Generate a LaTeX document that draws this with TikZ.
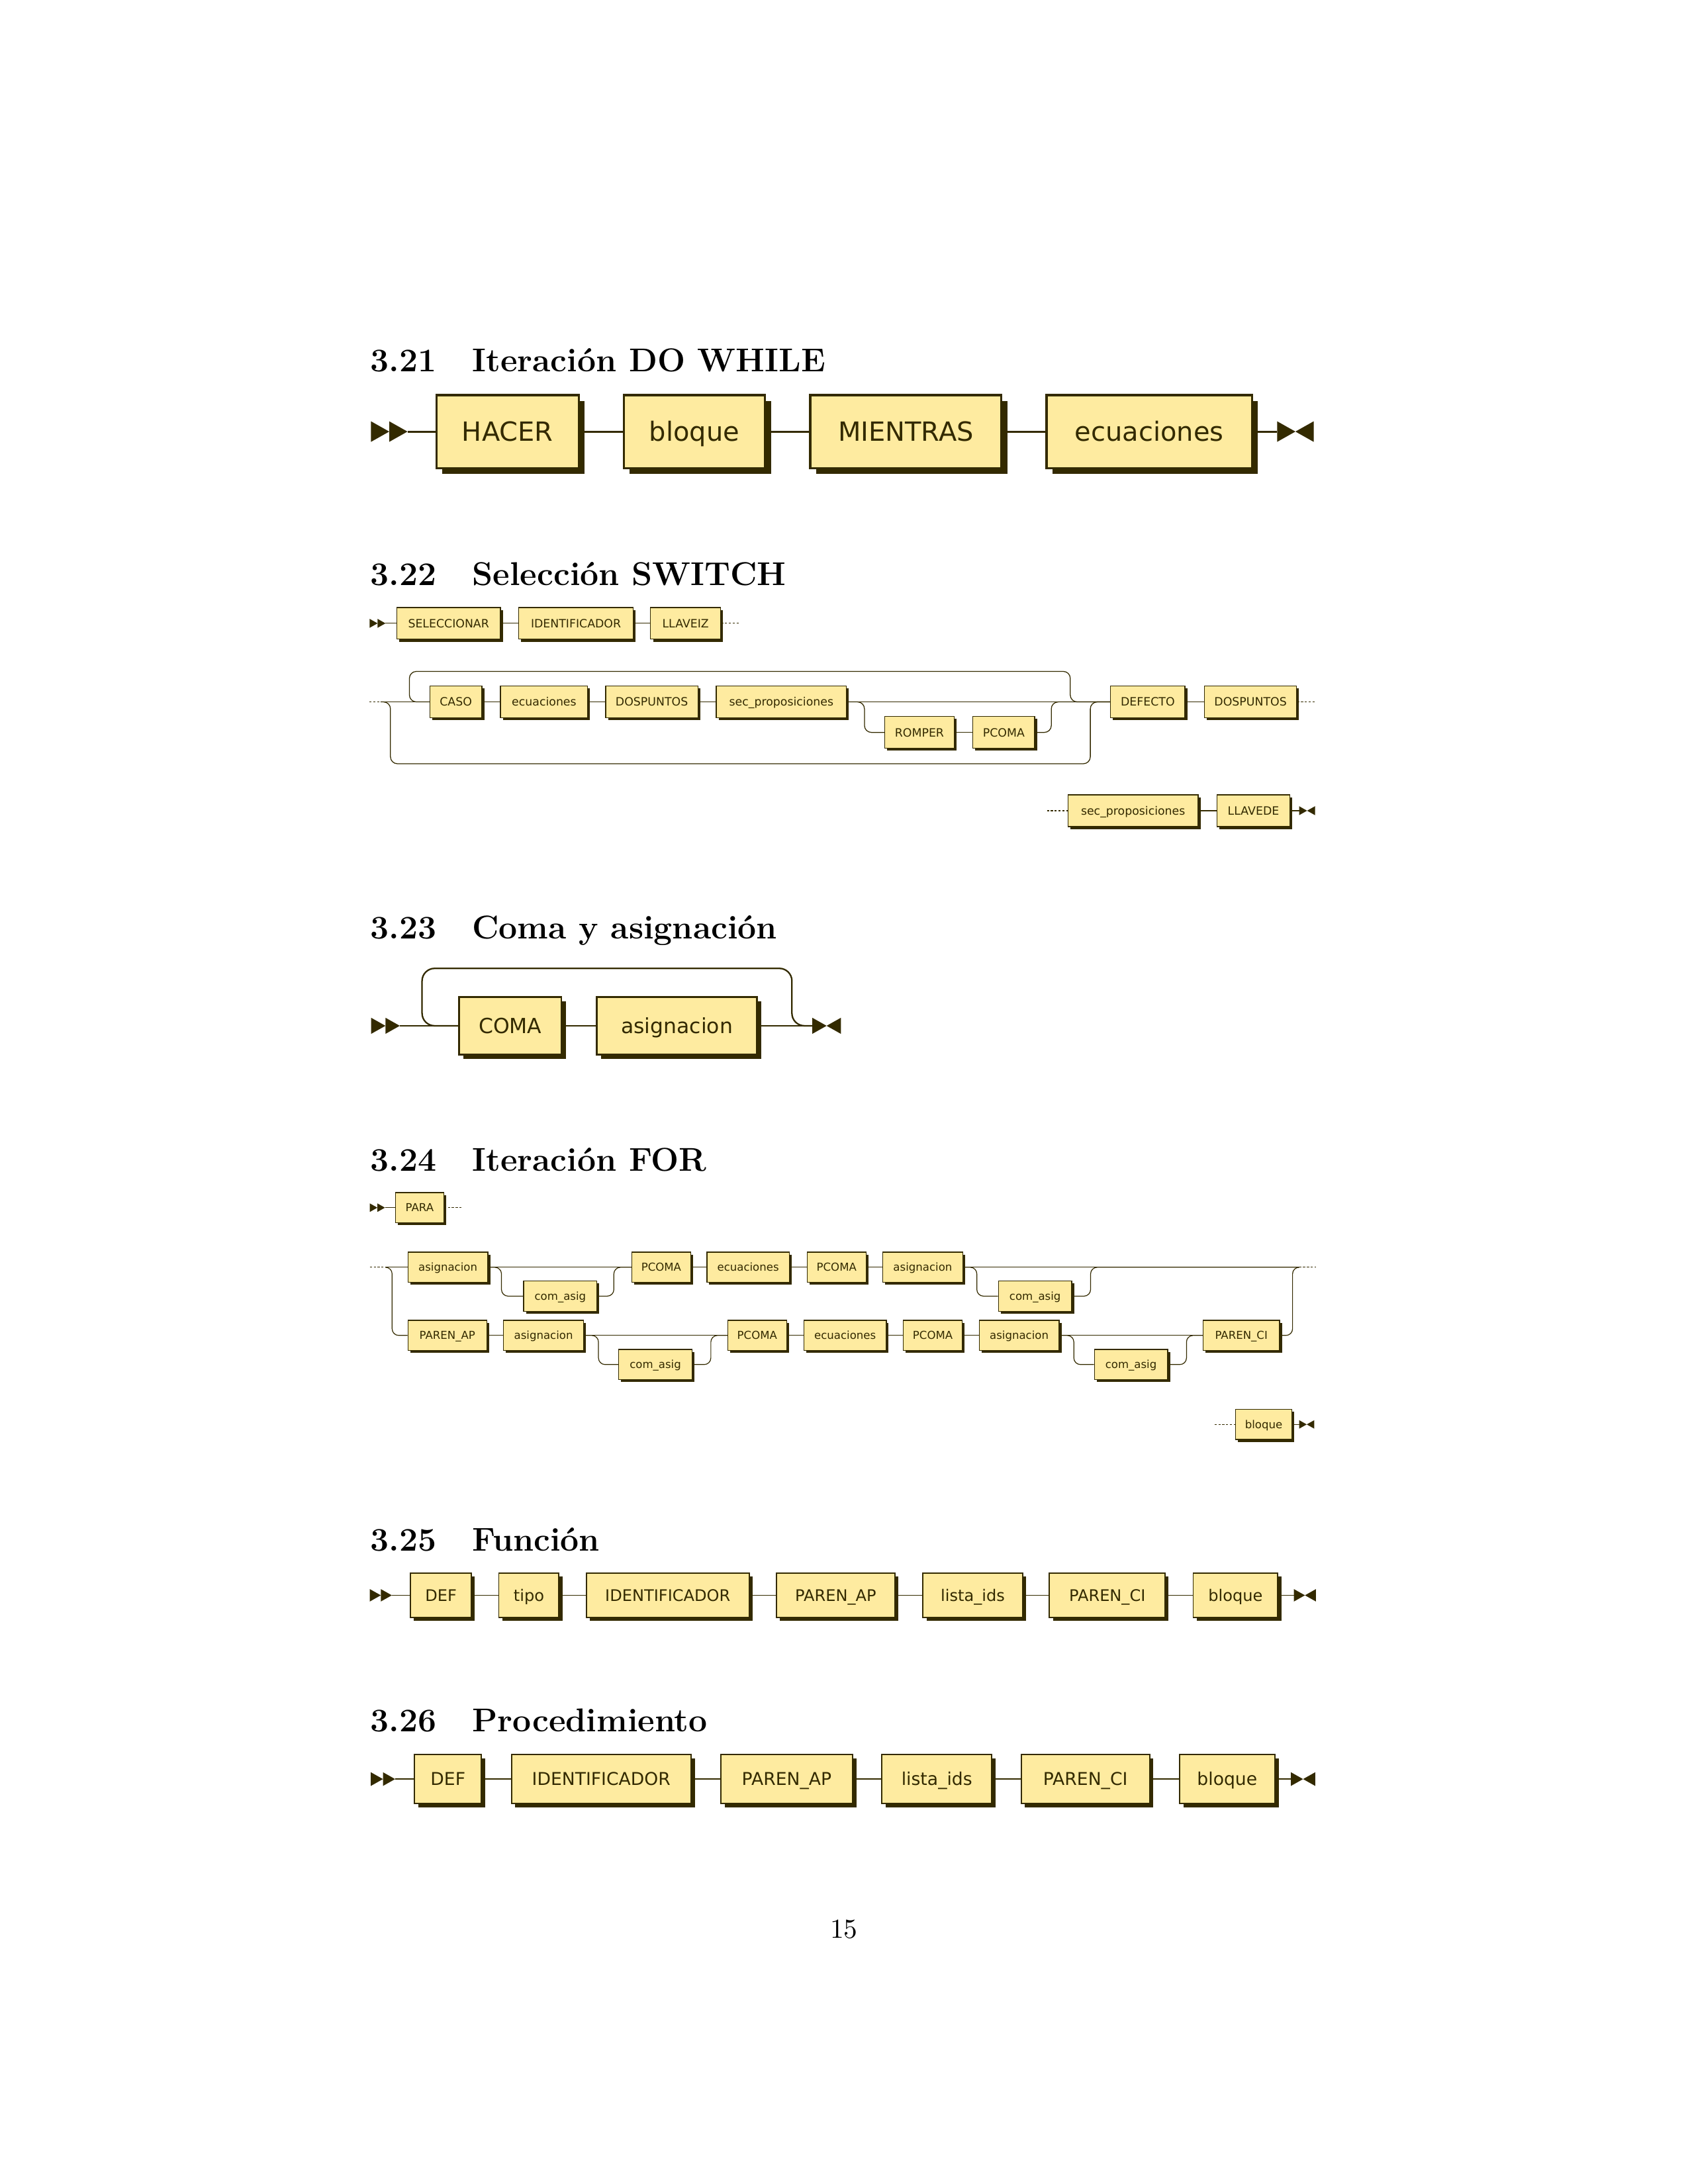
\documentclass[tikz,border=0pt]{standalone}
\usepackage{fontspec}
\usepackage{xcolor}
\usepackage{tikz}
\usetikzlibrary{shadows}

\newfontfamily\tsBoxFont{DejaVu Sans}

\definecolor{rrFill}{HTML}{FEEBA0}
\definecolor{rrDark}{HTML}{332A00}

\tikzstyle{tsHeading} = [
    text=black,
    font=\fontsize{12}{14}\selectfont\bfseries,
    anchor=base west,
    inner sep=0pt
]
\tikzstyle{tsBox} = [
    rectangle,
    draw=rrDark,
    fill=rrFill,
    text=rrDark,
    anchor=west,
    inner sep=0pt,
    minimum height=#1*32pt,
    text height=#1*8.5pt,
    text depth=0pt,
    line width=#1*0.9pt,
    font={\pgfmathsetmacro{\tsSize}{11.6*#1}\tsBoxFont\fontsize{\tsSize}{\tsSize}\selectfont},
    drop shadow={shadow xshift=#1*2.5pt, shadow yshift=-#1*2.5pt, fill=rrDark, opacity=1}
]
\tikzstyle{tsLine} = [
    draw=rrDark,
    line width=#1*0.85pt
]
\tikzstyle{tsLoop} = [
    tsLine=#1,
    rounded corners=#1*7pt
]
\tikzstyle{tsDots} = [
    draw=rrDark,
    line width=0.3pt,
    dash pattern=on 0.8pt off 0.6pt
]

\tikzset{
    tsStart/.pic={
        \fill[rrDark] (0,0) -- (-8,-4.5) -- (-8,4.5) -- cycle;
        \fill[rrDark] (-8,0) -- (-16,-4.5) -- (-16,4.5) -- cycle;
    },
    tsEnd/.pic={
        \fill[rrDark] (8,0) -- (0,-4.5) -- (0,4.5) -- cycle;
        \fill[rrDark] (8,0) -- (16,-4.5) -- (16,4.5) -- cycle;
    }
}

\begin{document}
\begin{tikzpicture}[x=1pt, y=-1pt]

        \useasboundingbox (0,0) rectangle (614.3,795.0);

        % 3.21
        \node[tsHeading] (h321) at (134.65,135.3) {3.21\quad\hspace{1pt}Iteración DO WHILE};

        \coordinate (s321) at (148.3,157.1);
        \coordinate (e321) at (464.8,157.1);
        \pic[scale=0.83] at (s321) {tsStart};
        \pic[scale=0.83] at (e321) {tsEnd};

        \node[tsBox=0.83, minimum width=51.7pt] (hacer) at (158.5,157.1) {HACER};
        \node[tsBox=0.83, minimum width=51.5pt] (bloqueA) at (226.6,157.1) {bloque};
        \node[tsBox=0.83, minimum width=69.6pt] (mientras) at (294.5,157.1) {MIENTRAS};
        \node[tsBox=0.83, minimum width=74.7pt] (ecuA) at (380.5,157.1) {ecuaciones};

        \draw[tsLine=0.83] (s321) -- (hacer);
        \draw[tsLine=0.83] (hacer) -- (bloqueA);
        \draw[tsLine=0.83] (bloqueA) -- (mientras);
        \draw[tsLine=0.83] (mientras) -- (ecuA);
        \draw[tsLine=0.83] (ecuA) -- (e321);

        % 3.22
        \node[tsHeading] (h322) at (134.65,213.2) {3.22\quad\hspace{1pt}Selección SWITCH};

        \coordinate (s322) at (140.3,226.9);
        \coordinate (w322a) at (269.4,226.9);
        \pic[scale=0.36] at (s322) {tsStart};

        \node[tsBox=0.36, minimum width=37.8pt] (selec) at (144.2,226.9) {SELECCIONAR};
        \node[tsBox=0.36, minimum width=41.7pt] (identB) at (188.6,226.9) {IDENTIFICADOR};
        \node[tsBox=0.36, minimum width=25.5pt] (llaveiz) at (236.6,226.9) {LLAVEIZ};

        \draw[tsLine=0.36] (s322) -- (selec);
        \draw[tsLine=0.36] (selec) -- (identB);
        \draw[tsLine=0.36] (identB) -- (llaveiz);
        \draw[tsDots] (llaveiz) -- (w322a);

        \coordinate (w322b) at (134.4,255.5);
        \coordinate (j322a) at (138.5,255.5);
        \coordinate (w322c) at (478.9,255.5);

        \node[tsBox=0.36, minimum width=18.9pt] (caso) at (156.3,255.5) {CASO};
        \node[tsBox=0.36, minimum width=31.7pt] (ecuB) at (182.0,255.5) {ecuaciones};
        \node[tsBox=0.36, minimum width=33.5pt] (dospA) at (220.3,255.5) {DOSPUNTOS};
        \node[tsBox=0.36, minimum width=47.4pt] (secpropA) at (260.5,255.5) {sec\_proposiciones};
        \node[tsBox=0.36, minimum width=25.3pt] (romper) at (321.8,266.6) {ROMPER};
        \node[tsBox=0.36, minimum width=22.5pt] (pcomaB) at (353.9,266.6) {PCOMA};
        \node[tsBox=0.36, minimum width=27.1pt] (defecto) at (404.0,255.5) {DEFECTO};
        \node[tsBox=0.36, minimum width=33.5pt] (dospB) at (438.2,255.5) {DOSPUNTOS};

        \draw[tsDots] (w322b) -- (j322a);
        \draw[tsLine=0.36] (j322a) -- (caso);
        \draw[tsLine=0.36] (caso) -- (ecuB);
        \draw[tsLine=0.36] (ecuB) -- (dospA);
        \draw[tsLine=0.36] (dospA) -- (secpropA);
        \draw[tsLine=0.36] (secpropA) -- (defecto);
        \draw[tsLine=0.36] (defecto) -- (dospB);
        \draw[tsDots] (dospB) -- (w322c);

        \draw[tsLoop=0.36] (secpropA.east) -| (314.6,266.6) -- (romper.west);
        \draw[tsLine=0.36] (romper) -- (pcomaB);
        \draw[tsLoop=0.36] (pcomaB.east) -| (382.6,255.5) -- (defecto.west);
        \draw[tsLoop=0.36] (defecto.west) -| (389.5,244.4) -| (149.0,255.5) -- (caso.west);
        \draw[tsLoop=0.36] (j322a) -| (142.1,278.0) -| (396.8,255.5) -- (defecto.west);

        \coordinate (w322d) at (381.0,295.1);
        \coordinate (e322) at (472.8,295.1);
        \pic[scale=0.36] at (e322) {tsEnd};

        \node[tsBox=0.36, minimum width=47.4pt] (secpropB) at (388.5,295.1) {sec\_proposiciones};
        \node[tsBox=0.36, minimum width=26.6pt] (llavede) at (442.7,295.1) {LLAVEDE};

        \draw[tsDots] (w322d) -- (secpropB);
        \draw[tsLine=0.36] (secpropB) -- (llavede);
        \draw[tsLine=0.36] (llavede) -- (e322);

        % 3.23
        \node[tsHeading] (h323) at (134.65,341.7) {3.23\quad\hspace{1pt}Coma y asignación};

        \coordinate (s323) at (145.5,373.4);
        \coordinate (e323) at (295.6,373.4);
        \pic[scale=0.653] at (s323) {tsStart};
        \pic[scale=0.653] at (e323) {tsEnd};

        \node[tsBox=0.653, minimum width=37.2pt] (coma) at (166.8,373.4) {COMA};
        \node[tsBox=0.653, minimum width=58.3pt] (asigA) at (216.9,373.4) {asignacion};

        \draw[tsLine=0.653] (s323) -- (coma);
        \draw[tsLine=0.653] (coma) -- (asigA);
        \draw[tsLine=0.653] (asigA) -- (e323);
        \draw[tsLoop=0.653] (e323) -| (288.2,352.5) -| (153.6,373.4) -- (coma.west);

        % 3.24
        \node[tsHeading] (h324) at (134.65,426.2) {3.24\quad\hspace{1pt}Iteración FOR};

        \coordinate (s324) at (140.1,439.6);
        \coordinate (w324a) at (168.3,439.6);
        \pic[scale=0.344] at (s324) {tsStart};

        \node[tsBox=0.344, minimum width=17.5pt] (para) at (143.8,439.6) {PARA};

        \draw[tsLine=0.344] (s324) -- (para);
        \draw[tsDots] (para) -- (w324a);

        \coordinate (w324b) at (134.6,461.3);
        \coordinate (j324a) at (140.3,461.3);
        \coordinate (j324b) at (472.8,461.3);
        \coordinate (w324c) at (478.9,461.3);

        \node[tsBox=0.344, minimum width=29.1pt] (asigB) at (148.3,461.3) {asignacion};
        \node[tsBox=0.344, minimum width=26.7pt] (comasigA) at (190.4,471.8) {com\_asig};
        \node[tsBox=0.344, minimum width=21.4pt] (pcomaC) at (229.8,461.3) {PCOMA};
        \node[tsBox=0.344, minimum width=30.0pt] (ecuC) at (257.1,461.3) {ecuaciones};
        \node[tsBox=0.344, minimum width=21.4pt] (pcomaD) at (293.6,461.3) {PCOMA};
        \node[tsBox=0.344, minimum width=29.1pt] (asigC) at (321.1,461.3) {asignacion};
        \node[tsBox=0.344, minimum width=26.7pt] (comasigB) at (363.2,471.8) {com\_asig};

        \draw[tsDots] (w324b) -- (j324a);
        \draw[tsLine=0.344] (j324a) -- (asigB);
        \draw[tsLine=0.344] (asigB) -- (pcomaC);
        \draw[tsLoop=0.344] (asigB.east) -| (182.5,471.8) -- (comasigA.west);
        \draw[tsLoop=0.344] (comasigA.east) -| (223.4,461.3) -- (pcomaC.west);
        \draw[tsLine=0.344] (pcomaC) -- (ecuC);
        \draw[tsLine=0.344] (ecuC) -- (pcomaD);
        \draw[tsLine=0.344] (pcomaD) -- (asigC);
        \draw[tsLine=0.344] (asigC) -- (j324b);
        \draw[tsLoop=0.344] (asigC.east) -| (355.5,471.8) -- (comasigB.west);
        \draw[tsLoop=0.344] (comasigB.east) -| (396.9,461.3) -- (j324b);
        \draw[tsDots] (j324b) -- (w324c);

        \node[tsBox=0.344, minimum width=28.7pt] (parenapA) at (148.3,486.1) {PAREN\_AP};
        \node[tsBox=0.344, minimum width=29.1pt] (asigD) at (183.1,486.1) {asignacion};
        \node[tsBox=0.344, minimum width=26.7pt] (comasigC) at (225.0,496.7) {com\_asig};
        \node[tsBox=0.344, minimum width=21.4pt] (pcomaE) at (264.7,486.1) {PCOMA};
        \node[tsBox=0.344, minimum width=30.0pt] (ecuD) at (292.4,486.1) {ecuaciones};
        \node[tsBox=0.344, minimum width=21.4pt] (pcomaF) at (328.6,486.1) {PCOMA};
        \node[tsBox=0.344, minimum width=29.1pt] (asigE) at (356.2,486.1) {asignacion};
        \node[tsBox=0.344, minimum width=26.7pt] (comasigD) at (398.1,496.7) {com\_asig};
        \node[tsBox=0.344, minimum width=27.8pt] (parenciA) at (437.7,486.1) {PAREN\_CI};

        \draw[tsLoop=0.344] (j324a) -| (142.7,486.1) -- (parenapA.west);
        \draw[tsLine=0.344] (parenapA) -- (asigD);
        \draw[tsLine=0.344] (asigD) -- (pcomaE);
        \draw[tsLoop=0.344] (asigD.east) -| (217.8,496.7) -- (comasigC.west);
        \draw[tsLoop=0.344] (comasigC.east) -| (258.7,486.1) -- (pcomaE.west);
        \draw[tsLine=0.344] (pcomaE) -- (ecuD);
        \draw[tsLine=0.344] (ecuD) -- (pcomaF);
        \draw[tsLine=0.344] (pcomaF) -- (asigE);
        \draw[tsLine=0.344] (asigE) -- (parenciA);
        \draw[tsLoop=0.344] (asigE.east) -| (390.8,496.7) -- (comasigD.west);
        \draw[tsLoop=0.344] (comasigD.east) -| (431.8,486.1) -- (parenciA.west);
        \draw[tsLoop=0.344] (parenciA.east) -| (470.4,461.3) -- (j324b);

        \coordinate (w324d) at (442.0,518.5);
        \coordinate (e324) at (472.8,518.5);
        \pic[scale=0.344] at (e324) {tsEnd};

        \node[tsBox=0.344, minimum width=20.5pt] (bloqueB) at (449.5,518.5) {bloque};

        \draw[tsDots] (w324d) -- (bloqueB);
        \draw[tsLine=0.344] (bloqueB) -- (e324);

        % 3.25
        \node[tsHeading] (h325) at (134.65,564.5) {3.25\quad\hspace{1pt}Función};

        \coordinate (s325) at (142.6,580.7);
        \coordinate (e325) at (470.9,580.7);
        \pic[scale=0.5] at (s325) {tsStart};
        \pic[scale=0.5] at (e325) {tsEnd};

        \node[tsBox=0.5, minimum width=22.1pt] (defA) at (149.2,580.7) {DEF};
        \node[tsBox=0.5, minimum width=21.9pt] (tipo) at (181.3,580.7) {tipo};
        \node[tsBox=0.5, minimum width=59.2pt] (identC) at (213.2,580.7) {IDENTIFICADOR};
        \node[tsBox=0.5, minimum width=43.0pt] (parenapB) at (282.4,580.7) {PAREN\_AP};
        \node[tsBox=0.5, minimum width=36.2pt] (listaA) at (335.7,580.7) {lista\_ids};
        \node[tsBox=0.5, minimum width=42.1pt] (parenciB) at (381.7,580.7) {PAREN\_CI};
        \node[tsBox=0.5, minimum width=30.8pt] (bloqueC) at (434.0,580.7) {bloque};

        \draw[tsLine=0.5] (s325) -- (defA);
        \draw[tsLine=0.5] (defA) -- (tipo);
        \draw[tsLine=0.5] (tipo) -- (identC);
        \draw[tsLine=0.5] (identC) -- (parenapB);
        \draw[tsLine=0.5] (parenapB) -- (listaA);
        \draw[tsLine=0.5] (listaA) -- (parenciB);
        \draw[tsLine=0.5] (parenciB) -- (bloqueC);
        \draw[tsLine=0.5] (bloqueC) -- (e325);

        % 3.26
        \node[tsHeading] (h326) at (134.65,630.4) {3.26\quad\hspace{1pt}Procedimiento};

        \coordinate (s326) at (143.8,647.6);
        \coordinate (e326) at (469.8,647.6);
        \pic[scale=0.553] at (s326) {tsStart};
        \pic[scale=0.553] at (e326) {tsEnd};

        \node[tsBox=0.553, minimum width=24.4pt] (defB) at (150.6,647.6) {DEF};
        \node[tsBox=0.553, minimum width=65.3pt] (identD) at (185.9,647.6) {IDENTIFICADOR};
        \node[tsBox=0.553, minimum width=47.9pt] (parenapC) at (262.1,647.6) {PAREN\_AP};
        \node[tsBox=0.553, minimum width=40.0pt] (listaB) at (320.7,647.6) {lista\_ids};
        \node[tsBox=0.553, minimum width=46.7pt] (parenciC) at (371.4,647.6) {PAREN\_CI};
        \node[tsBox=0.553, minimum width=34.7pt] (bloqueD) at (429.0,647.6) {bloque};

        \draw[tsLine=0.553] (s326) -- (defB);
        \draw[tsLine=0.553] (defB) -- (identD);
        \draw[tsLine=0.553] (identD) -- (parenapC);
        \draw[tsLine=0.553] (parenapC) -- (listaB);
        \draw[tsLine=0.553] (listaB) -- (parenciC);
        \draw[tsLine=0.553] (parenciC) -- (bloqueD);
        \draw[tsLine=0.553] (bloqueD) -- (e326);

        \node[anchor=base] (pagenum) at (307.15,705.5) {15};

\end{tikzpicture}
\end{document}
